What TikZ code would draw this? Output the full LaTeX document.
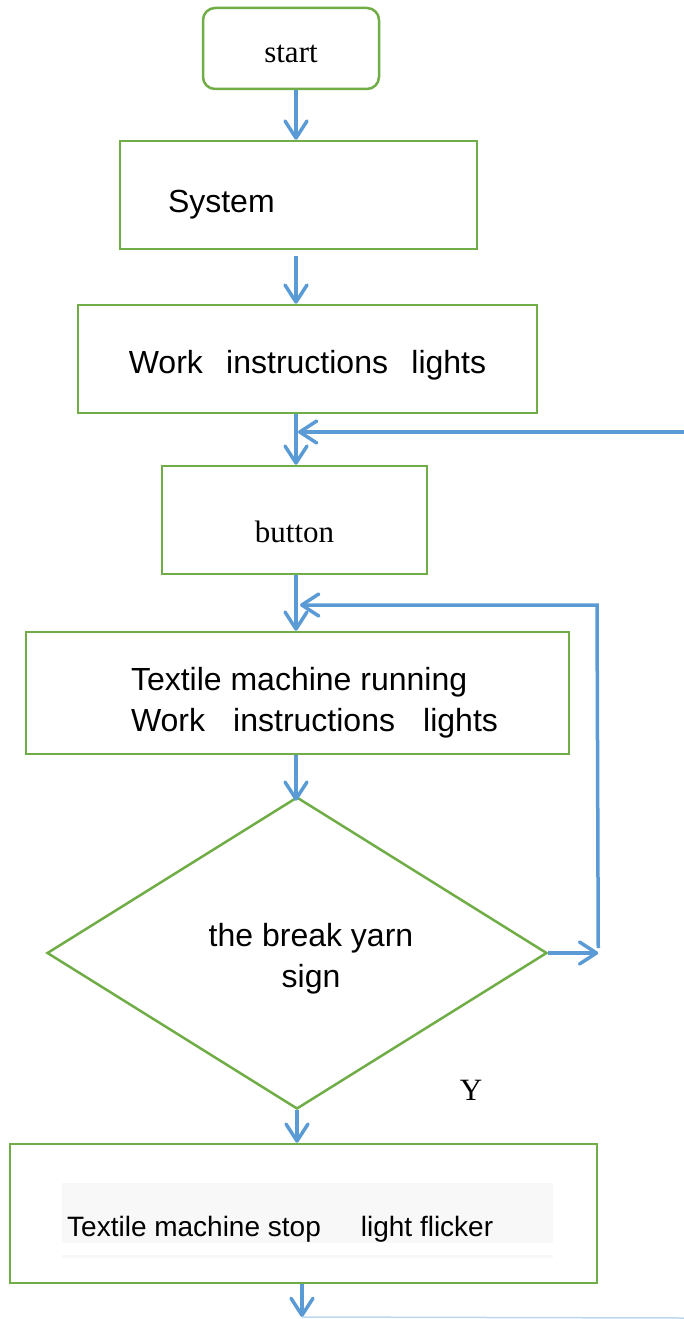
\documentclass[tikz,border=0pt]{standalone}
\usepackage{fontspec}
\setmainfont{Liberation Serif}
\setsansfont{Liberation Sans}
\usetikzlibrary{shapes.geometric,arrows.meta}
\definecolor{boxgreen}{HTML}{70AD47}
\definecolor{flowblue}{HTML}{5B9BD5}
\definecolor{paleblue}{HTML}{BDD7EE}
\definecolor{bandgray}{HTML}{F8F8F8}

\begin{document}
\begin{tikzpicture}[x=1pt,y=-1pt,
    box/.style={draw=boxgreen,line width=2.5pt},
    lowered/.style={text height=#1,text depth=0pt},
    flow/.style={draw=flowblue,line width=3.5pt,-{Straight Barb[length=17pt,width=22pt,round]}},
    sans/.style={font=\sffamily\fontsize{32}{41}\selectfont},
    serif/.style={font=\fontsize{31}{37}\selectfont}]
    \useasboundingbox (0,0) rectangle (684,1319);
    \node[box,serif,lowered=28pt,rounded corners=12pt,minimum width=176pt,minimum height=81pt] (start) at (291,48.5) {start};
    \node[box,sans,lowered=34pt,minimum width=357pt,minimum height=108pt,text width=261pt,inner xsep=0pt,align=left] (sys) at (298.5,195) {System};
    \node[box,sans,lowered=28pt,minimum width=459pt,minimum height=108pt] (lights) at (307.5,359) {Work\hspace{0.73em}instructions\hspace{0.73em}lights};
    \node[box,serif,lowered=45pt,minimum width=265pt,minimum height=108pt] (button) at (294.5,520) {button};
    \node[box,minimum width=543pt,minimum height=122pt] (running) at (297.5,693) {};
    \node[sans,align=left] (runtext) at (314.5,703) {Textile machine running\\Work\hspace{0.88em}instructions\hspace{0.88em}lights};
    \node[box,diamond,minimum width=500pt,minimum height=312pt,inner sep=0pt] (break) at (297,953) {};
    \node[sans,align=center] (breaktext) at (311,959) {the break yarn\\sign};
    \node[serif] (ylab) at (471,1090) {Y};
    \node[box,minimum width=587pt,minimum height=139pt] (stop) at (303.5,1213.5) {};
    \fill[bandgray] (62,1183) rectangle (553,1243);
    \fill[bandgray] (62,1255) rectangle (553,1258);
    \node[font=\sffamily\fontsize{28}{34}\selectfont,anchor=base west,inner sep=0pt] (stoptext) at (67,1236) {Textile machine stop\hspace{1.43em}light flicker};
    % main line
    \coordinate (spine) at (296,0);
    \draw[flow] (spine |- start.south) -- (spine |- sys.north);
    \draw[flow] ([yshift=-6pt]spine |- sys.south) -- (spine |- lights.north);
    \draw[flow] (spine |- lights.south) -- (spine |- button.north);
    \draw[flow] (spine |- button.south) -- (spine |- running.north);
    \draw[flow] (spine |- running.south) -- ([yshift=-5pt]spine |- break.north);
    \draw[flow] (break.south) -- (break.south |- stop.north);
    \coordinate (outlet) at (302,1317);
    \coordinate (edge) at (684,1318);
    \draw[flow] (stop.south -| outlet) -- (outlet);
    \draw[paleblue,line width=1.5pt] (outlet) -- (edge);
    % loops back
    \coordinate (inlet) at (684,432);
    \draw[flow] (inlet) -- ([xshift=2pt]spine |- inlet);
    \draw[flow] (break.east) -- ++(50,0) coordinate (turn);
    \coordinate (loop) at (597,605);
    \draw[flow] ([yshift=5pt]turn) -- (loop) -- ([xshift=4pt]spine |- loop);
\end{tikzpicture}
\end{document}
